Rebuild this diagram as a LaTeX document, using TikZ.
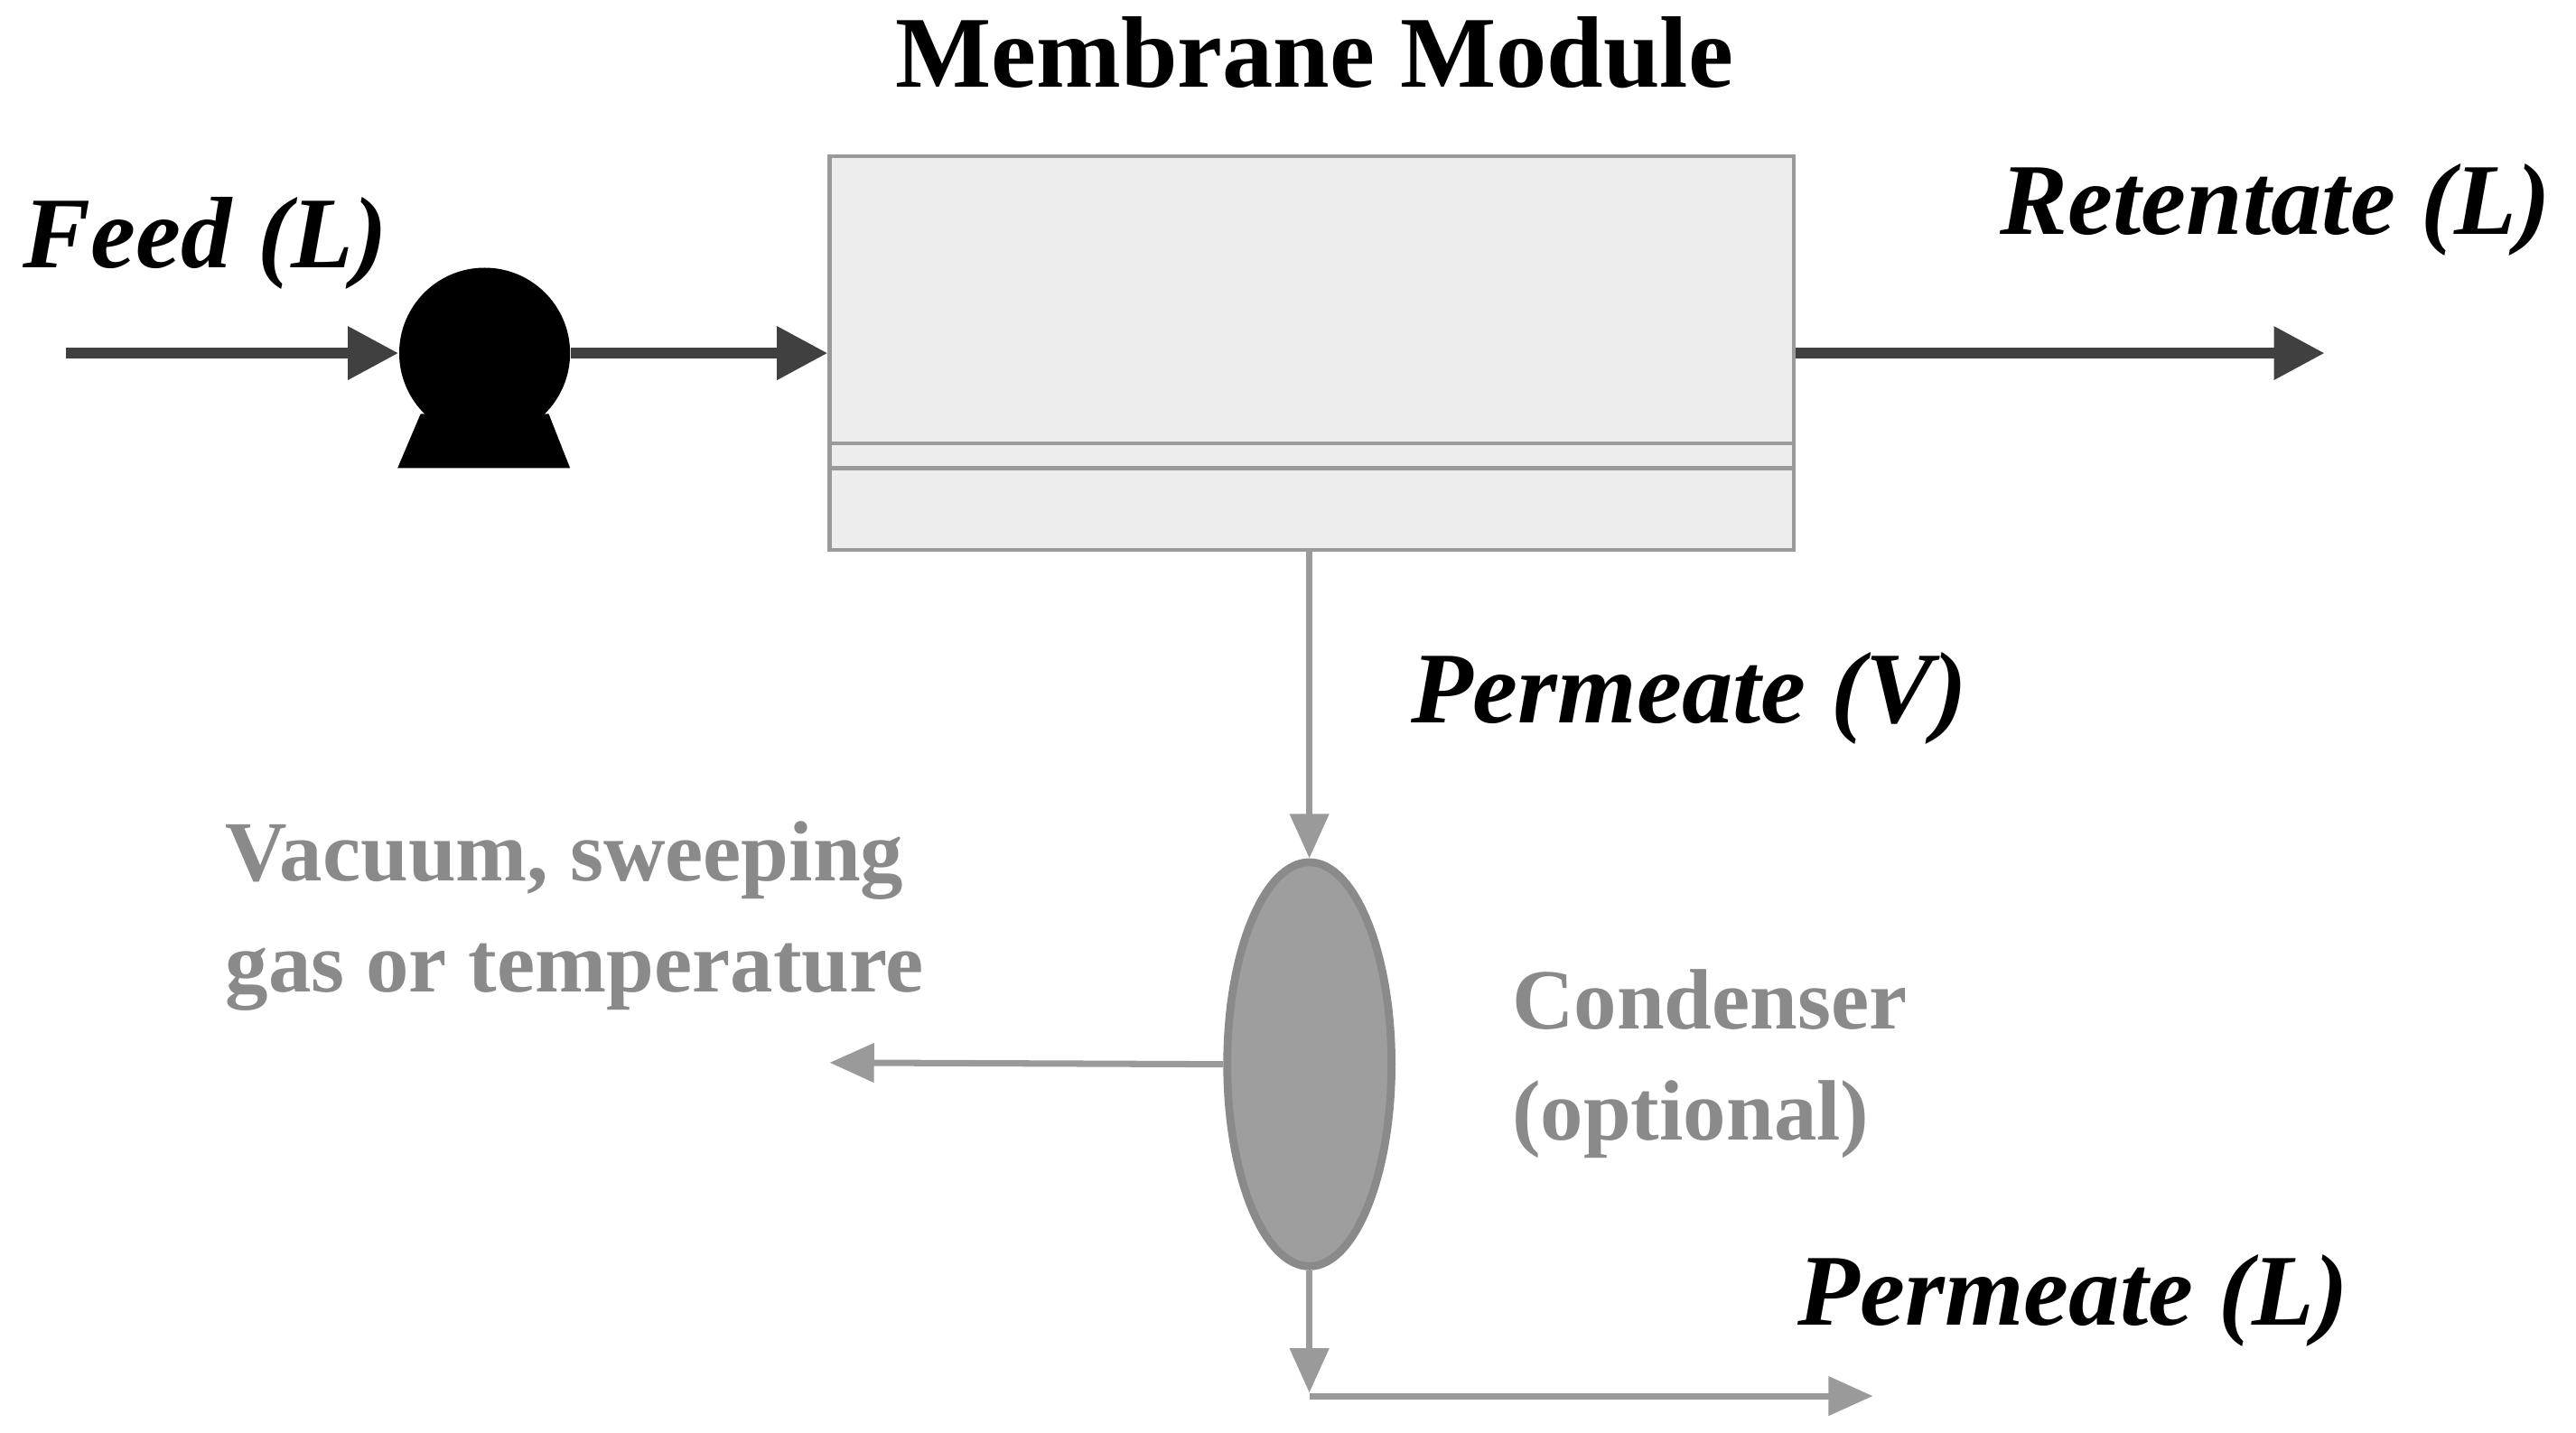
\documentclass[tikz,border=0pt]{standalone}
\usepackage{fontspec}
\setmainfont{Liberation Serif}
\usetikzlibrary{arrows.meta,shapes.geometric}
\definecolor{dk}{HTML}{404040}
\definecolor{gr}{HTML}{9A9A9A}
\definecolor{tg}{HTML}{8A8A8A}
\begin{document}
\begin{tikzpicture}[x=0.01819cm,y=-0.01819cm,
 lbl/.style={font=\fontsize{32}{34}\selectfont\bfseries\itshape,inner sep=0},
 glbl/.style={font=\fontsize{27}{35}\selectfont\bfseries,text=tg,inner sep=0,align=left},
 dar/.style={draw=dk,line width=3.5pt,-{Triangle[length=16pt,width=16pt]}},
 gar/.style={draw=gr,line width=2pt,-{Triangle[length=14pt,width=12pt]}}]
\useasboundingbox (0,0) rectangle (1568,872);
\node[font=\fontsize{32}{34}\selectfont\bfseries,inner sep=0] (title) at (800,32) {Membrane Module};
\node[draw=gr,fill=black!7,line width=1.2pt,minimum width=587*0.01819cm,minimum height=240*0.01819cm,inner sep=0] (mod) at (798.5,215) {};
\coordinate (l1a) at (505,270); \coordinate (l1b) at (1092,270);
\coordinate (l2a) at (505,285); \coordinate (l2b) at (1092,285);
\draw[gr,line width=1.2pt] (l1a)--(l1b) (l2a)--(l2b);
\node[lbl] (feed) at (125,148) {Feed (L)};
\coordinate (fin) at (40,215);
\node[circle,fill=black,minimum size=104*0.01819cm,inner sep=0] (pump) at (295,215) {};
\fill[black] (256,252)--(334,252)--(347,285)--(242,285)--cycle;
\draw[dar] (fin)--(pump.west);
\draw[dar] (pump.east)--(mod.west);
\coordinate (rout) at (1415,215);
\draw[dar] (mod.east)--(rout);
\node[lbl] (ret) at (1385,128) {Retentate (L)};
\node[draw=tg,fill=black!38,line width=2.5pt,ellipse,minimum width=100*0.01819cm,minimum height=246*0.01819cm,inner sep=0] (cond) at (797,648) {};
\draw[gar] (mod.south -| cond.north)--(cond.north);
\node[lbl] (pv) at (1028,425) {Permeate (V)};
\coordinate (vac) at (505,647);
\draw[gar] (cond.west)--(vac);
\node[glbl,anchor=west] (vt) at (137,558) {Vacuum, sweeping\\gas or temperature};
\node[glbl,anchor=west] (ct) at (920,648) {Condenser\\(optional)};
\coordinate (c1) at (797,850); \coordinate (c2) at (1140,850);
\coordinate (c0) at (797,848);
\draw[gar] (cond.south)--(c0);
\draw[gar] (c1)--(c2);
\node[lbl] (pl) at (1262,792) {Permeate (L)};
\end{tikzpicture}
\end{document}
